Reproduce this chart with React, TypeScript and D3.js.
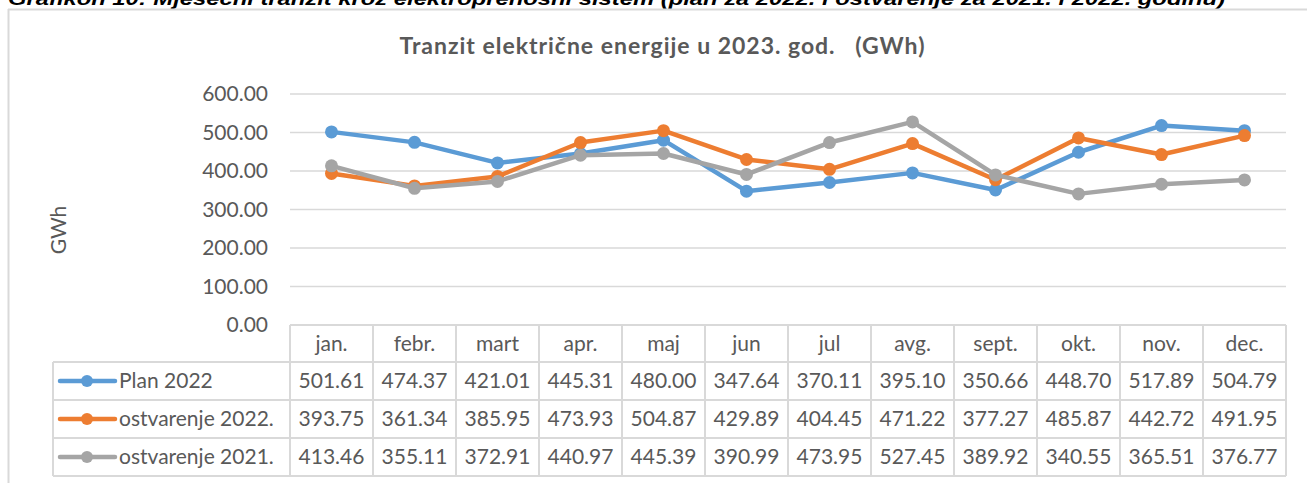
import * as d3 from 'd3';

const months = ['jan.', 'febr.', 'mart', 'apr.', 'maj', 'jun', 'jul', 'avg.', 'sept.', 'okt.', 'nov.', 'dec.'];
const plan2022 = [501.61, 474.37, 421.01, 445.31, 480.0, 347.64, 370.11, 395.1, 350.66, 448.7, 517.89, 504.79];
const ostv2022 = [393.75, 361.34, 385.95, 473.93, 504.87, 429.89, 404.45, 471.22, 377.27, 485.87, 442.72, 491.95];
const ostv2021 = [413.46, 355.11, 372.91, 440.97, 445.39, 390.99, 473.95, 527.45, 389.92, 340.55, 365.51, 376.77];
const seriesNames = ['Plan 2022', 'ostvarenje 2022.', 'ostvarenje 2021.'];
const seriesColors = ['#5B9BD5', '#ED7D31', '#A5A5A5'];
const yTicks = [0, 100, 200, 300, 400, 500, 600];

const W = 1307;
const H = 483;
const FONT = 'Lato, "Open Sans", sans-serif';
const FS = 21;
const TXT = '#595959';
const GRID = '#d9d9d9';

export default function App() {
  const series = [plan2022, ostv2022, ostv2021];

  // plot / table geometry
  const left = 290;
  const right = 1286;
  const top = 94;
  const bottom = 325;
  const rowH = 38;
  const legendLeft = 53;

  const x = d3.scaleBand<string>().domain(months).range([left, right]);
  const y = d3.scaleLinear().domain([0, 600]).range([bottom, top]);
  const cx = (m: string) => (x(m) as number) + x.bandwidth() / 2;

  const line = d3.line<number>()
    .x((_, i) => cx(months[i]))
    .y(d => y(d));

  const headerBottom = bottom + rowH - 1;
  const rowTop = (r: number) => headerBottom + r * rowH;
  const tableBottom = rowTop(3);

  return (
    <svg width={W} height={H} style={{ position: 'absolute', left: 0, top: 0, background: '#fff' }}>
      {/* caption, partly cut off at the top as in the source */}
      <text x={8} y={5} fontFamily='"Liberation Sans", Arial, sans-serif' fontWeight="bold" fontStyle="italic"
        fontSize={19} fill="#000" textLength={1217} lengthAdjust="spacingAndGlyphs">
        Grafikon 10: Mjesečni tranzit kroz elektroprenosni sistem (plan za 2022. i ostvarenje za 2021. i 2022. godinu)
      </text>

      {/* chart frame */}
      <line x1={8} x2={W} y1={9.5} y2={9.5} stroke={GRID} strokeWidth={2} />
      <line x1={8.5} x2={8.5} y1={9} y2={H} stroke={GRID} strokeWidth={2} />

      <text x={662} y={54} textAnchor="middle" fontFamily={FONT} fontWeight="bold" fontSize={23} fill={TXT}
        textLength={525} lengthAdjust="spacing" style={{ whiteSpace: 'pre' }}>
        {'Tranzit električne energije u 2023. god.   (GWh)'}
      </text>

      <text transform={`translate(66,230) rotate(-90)`} textAnchor="middle" fontFamily={FONT} fontSize={FS} fill={TXT}>
        GWh
      </text>

      {/* gridlines and y labels */}
      {yTicks.map(t => (
        <g key={t}>
          {t > 0 && <line x1={left} x2={right} y1={y(t)} y2={y(t)} stroke={GRID} strokeWidth={1.5} />}
          <text x={268} y={y(t)} dy="0.35em" textAnchor="end" fontFamily={FONT} fontSize={FS} fill={TXT}>
            {d3.format('.2f')(t)}
          </text>
        </g>
      ))}

      {/* data table */}
      <g stroke={GRID} strokeWidth={2} fill="none">
        <line x1={left} x2={right} y1={bottom} y2={bottom} />
        {[0, 1, 2, 3].map(r => (
          <line key={r} x1={legendLeft} x2={right} y1={rowTop(r)} y2={rowTop(r)} />
        ))}
        <line x1={legendLeft} x2={legendLeft} y1={rowTop(0)} y2={tableBottom} />
        {months.map(m => (
          <line key={m} x1={x(m) as number} x2={x(m) as number} y1={bottom} y2={tableBottom} />
        ))}
        <line x1={right} x2={right} y1={bottom} y2={tableBottom} />
      </g>

      {months.map(m => (
        <text key={m} x={cx(m)} y={bottom + rowH / 2} dy="0.35em" textAnchor="middle" fontFamily={FONT} fontSize={FS} fill={TXT}>
          {m}
        </text>
      ))}

      {series.map((s, si) => (
        <g key={si}>
          <line x1={60} x2={115} y1={rowTop(si) + rowH / 2} y2={rowTop(si) + rowH / 2}
            stroke={seriesColors[si]} strokeWidth={4.5} strokeLinecap="round" />
          <circle cx={87} cy={rowTop(si) + rowH / 2} r={6} fill={seriesColors[si]} />
          <text x={119} y={rowTop(si) + rowH / 2} dy="0.35em" fontFamily={FONT} fontSize={FS} fill={TXT}>
            {seriesNames[si]}
          </text>
          {s.map((v, i) => (
            <text key={i} x={cx(months[i])} y={rowTop(si) + rowH / 2} dy="0.35em" textAnchor="middle"
              fontFamily={FONT} fontSize={FS} fill={TXT}>
              {d3.format('.2f')(v)}
            </text>
          ))}
        </g>
      ))}

      {/* lines */}
      {series.map((s, si) => (
        <g key={si}>
          <path d={line(s) as string} fill="none" stroke={seriesColors[si]} strokeWidth={4.5} strokeLinejoin="round" />
          {s.map((v, i) => (
            <circle key={i} cx={cx(months[i])} cy={y(v)} r={6.5} fill={seriesColors[si]} />
          ))}
        </g>
      ))}
    </svg>
  );
}
